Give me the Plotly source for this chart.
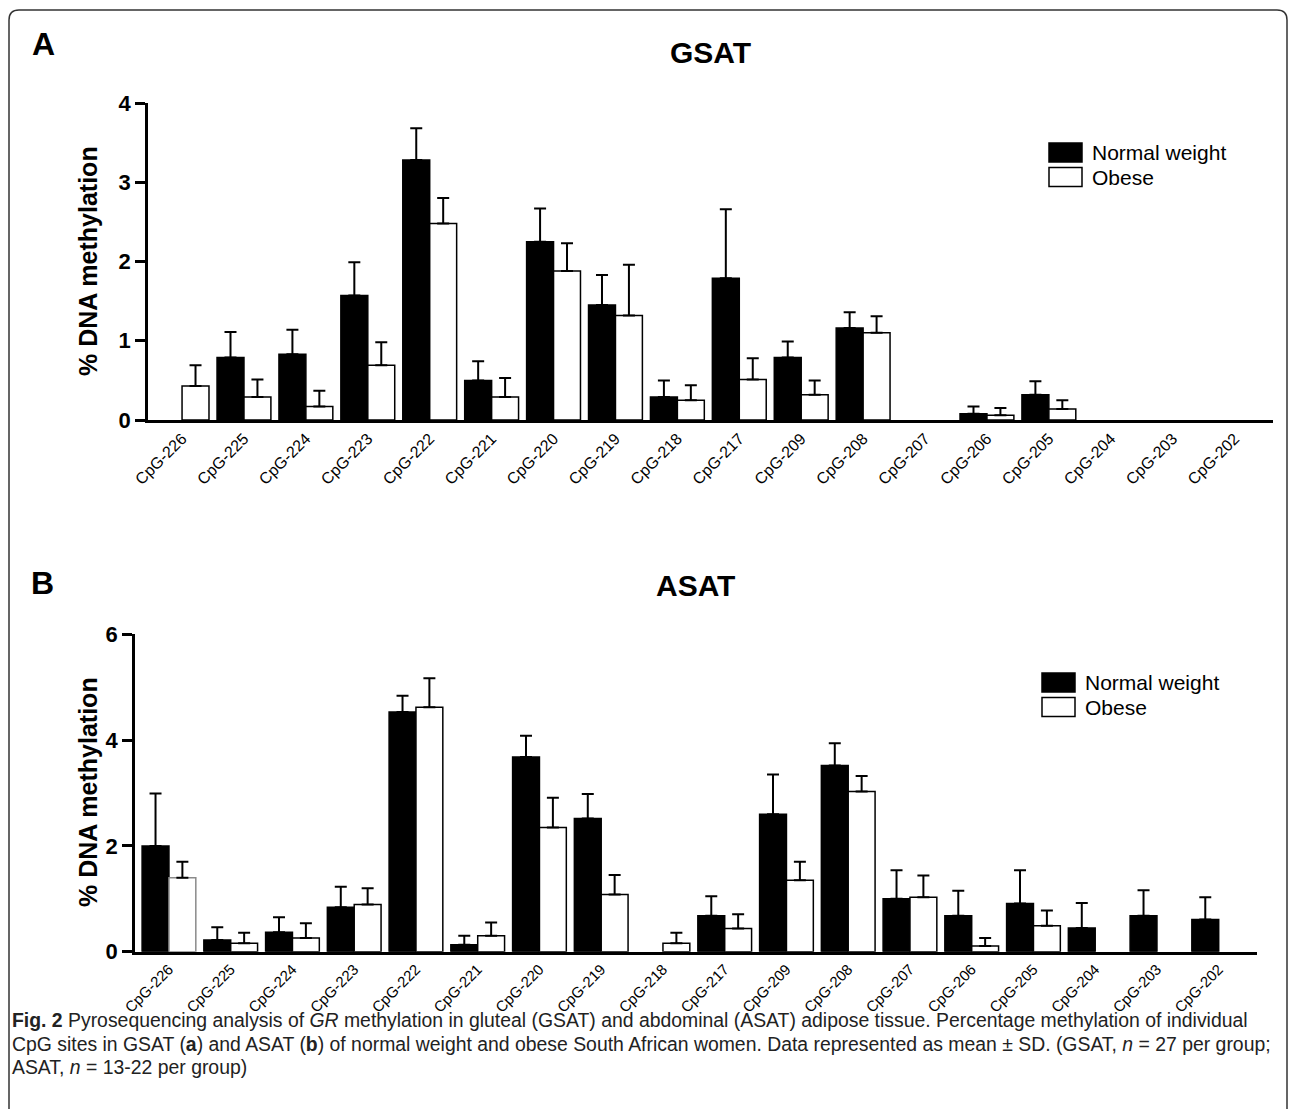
import plotly.graph_objects as go

W, H = 1290, 1109

cats = ["CpG-226", "CpG-225", "CpG-224", "CpG-223", "CpG-222", "CpG-221", "CpG-220",
        "CpG-219", "CpG-218", "CpG-217", "CpG-209", "CpG-208", "CpG-207", "CpG-206",
        "CpG-205", "CpG-204", "CpG-203", "CpG-202"]

# Panel A: GSAT
gsat_normal = [None, 0.79, 0.83, 1.57, 3.28, 0.50, 2.25, 1.45, 0.29, 1.79, 0.79, 1.16,
               None, 0.08, 0.32, None, None, None]
gsat_normal_sd = [None, 0.32, 0.31, 0.42, 0.40, 0.24, 0.42, 0.38, 0.21, 0.87, 0.20, 0.20,
                  None, 0.09, 0.17, None, None, None]
gsat_obese = [0.43, 0.29, 0.17, 0.69, 2.48, 0.29, 1.88, 1.32, 0.25, 0.51, 0.32, 1.10,
              None, 0.06, 0.14, None, None, None]
gsat_obese_sd = [0.26, 0.22, 0.20, 0.29, 0.32, 0.24, 0.35, 0.64, 0.19, 0.27, 0.18, 0.21,
                 None, 0.09, 0.11, None, None, None]

# Panel B: ASAT
asat_normal = [2.00, 0.22, 0.37, 0.84, 4.53, 0.13, 3.68, 2.52, None, 0.68, 2.60, 3.52,
               1.00, 0.68, 0.91, 0.45, 0.68, 0.61]
asat_normal_sd = [0.99, 0.24, 0.28, 0.39, 0.31, 0.17, 0.40, 0.46, None, 0.37, 0.75, 0.42,
                  0.54, 0.47, 0.63, 0.47, 0.48, 0.42]
asat_obese = [1.40, 0.16, 0.26, 0.89, 4.62, 0.30, 2.35, 1.08, 0.16, 0.44, 1.35, 3.03,
              1.03, 0.11, 0.49, None, None, None]
asat_obese_sd = [0.30, 0.20, 0.28, 0.31, 0.55, 0.25, 0.56, 0.37, 0.20, 0.27, 0.35, 0.29,
                 0.41, 0.15, 0.29, None, None, None]

yticks_a = [0, 1, 2, 3, 4]
yticks_b = [0, 2, 4, 6]
series_names = ["Normal weight", "Obese"]

FONT = "Liberation Sans, Arial, Helvetica, sans-serif"


def px(x):
    return x / W


def py(y):
    return 1 - y / H


def bar_trace(vals, sds, filled, xa, ya, line_colors=None):
    lc = line_colors if line_colors is not None else "black"
    return go.Bar(
        x=cats, y=vals, xaxis=xa, yaxis=ya, showlegend=False,
        marker=dict(color="black" if filled else "white",
                    line=dict(color=lc, width=1.5)),
        error_y=dict(type="data", symmetric=False, array=sds,
                     arrayminus=[0] * len(sds), color="black",
                     thickness=2, width=6),
        hoverinfo="x+y",
    )


fig = go.Figure()
fig.add_trace(bar_trace(gsat_normal, gsat_normal_sd, True, "x", "y"))
fig.add_trace(bar_trace(gsat_obese, gsat_obese_sd, False, "x", "y"))
fig.add_trace(bar_trace(asat_normal, asat_normal_sd, True, "x2", "y2"))
ob_line_b = ["#8a8a8a"] + ["black"] * (len(cats) - 1)
fig.add_trace(bar_trace(asat_obese, asat_obese_sd, False, "x2", "y2", ob_line_b))

xcommon = dict(type="category", showline=True, linewidth=3, linecolor="black",
               ticks="", tickangle=-45, showgrid=False, zeroline=False,
               automargin=False, range=[-0.55, 17.62])
ycommon = dict(showline=True, linewidth=2.5, linecolor="black", ticks="outside",
               ticklen=10, tickwidth=2.5, tickcolor="black", showgrid=False,
               zeroline=False, automargin=False,
               tickfont=dict(family=FONT, size=22, color="black", weight="bold"))

fig.update_layout(
    width=W, height=H, autosize=False,
    margin=dict(l=0, r=0, t=0, b=0, pad=0, autoexpand=False),
    paper_bgcolor="white", plot_bgcolor="white",
    barmode="group", bargap=0.13, bargroupgap=0,
    xaxis=dict(domain=[px(148), px(1273)], anchor="y",
               tickfont=dict(family=FONT, size=16, color="black"), **xcommon),
    yaxis=dict(domain=[py(420), py(103)], anchor="x", range=[0, 4],
               tickvals=yticks_a, **ycommon),
    xaxis2=dict(domain=[px(135), px(1257)], anchor="y2",
                tickfont=dict(family=FONT, size=15, color="black"), **xcommon),
    yaxis2=dict(domain=[py(951.7), py(634.3)], anchor="x2", range=[0, 6],
                tickvals=yticks_b, **ycommon),
    showlegend=False,
)

ann = []


def text(x, y, s, size, bold=False, xanchor="center", angle=0):
    ann.append(dict(x=px(x), y=py(y), xref="paper", yref="paper", text=s,
                    showarrow=False, xanchor=xanchor, yanchor="middle",
                    textangle=angle,
                    font=dict(family=FONT, size=size, color="black",
                              weight="bold" if bold else "normal")))


# panel letters and titles
text(43, 44, "A", 32, bold=True)
text(42, 583, "B", 32, bold=True)
text(710, 53, "GSAT", 30, bold=True)
text(695, 585, "ASAT", 30, bold=True)
# y-axis titles
text(88, 261, "% DNA methylation", 25, bold=True, angle=-90)
text(88, 792, "% DNA methylation", 25, bold=True, angle=-90)

# legends
shapes = []


def legend(x0, y_rows, text_x):
    for i, (name, yc) in enumerate(zip(series_names, y_rows)):
        shapes.append(dict(type="rect", xref="paper", yref="paper",
                           x0=px(x0), x1=px(x0 + 33), y0=py(yc - 9.5), y1=py(yc + 9.5),
                           fillcolor="black" if i == 0 else "white",
                           line=dict(color="black", width=1.5)))
        text(text_x, yc, name, 21, xanchor="left")


legend(1049, [152.5, 177], 1090)
legend(1042, [682.5, 707], 1083)

# caption
cap_font = "Liberation Sans, Arial, sans-serif"
cap_lines = [
    "<b>Fig. 2</b> Pyrosequencing analysis of <i>GR</i> methylation in gluteal (GSAT) and abdominal (ASAT) adipose tissue. Percentage methylation of individual",
    "CpG sites in GSAT (<b>a</b>) and ASAT (<b>b</b>) of normal weight and obese South African women. Data represented as mean ± SD. (GSAT, <i>n</i> = 27 per group;",
    "ASAT, <i>n</i> = 13-22 per group)",
]
for s, yc in zip(cap_lines, [1020, 1043.5, 1067]):
    ann.append(dict(x=px(10), y=py(yc), xref="paper", yref="paper", text=s,
                    showarrow=False, xanchor="left", yanchor="middle",
                    font=dict(family=cap_font, size=19.4, color="#222")))

# rounded frame
pts = [(9, 1120), (9, 20), (19, 10), (1277, 10), (1287, 20), (1287, 1120)]
p = [(px(a), py(b)) for a, b in pts]
path = (f"M {p[0][0]},{p[0][1]} L {p[1][0]},{p[1][1]} "
        f"Q {px(9)},{py(10)} {p[2][0]},{p[2][1]} L {p[3][0]},{p[3][1]} "
        f"Q {px(1287)},{py(10)} {p[4][0]},{p[4][1]} L {p[5][0]},{p[5][1]}")
shapes.append(dict(type="path", xref="paper", yref="paper", path=path,
                   line=dict(color="#333", width=1.5)))

fig.update_layout(annotations=ann, shapes=shapes)
fig.write_html("out.html")
